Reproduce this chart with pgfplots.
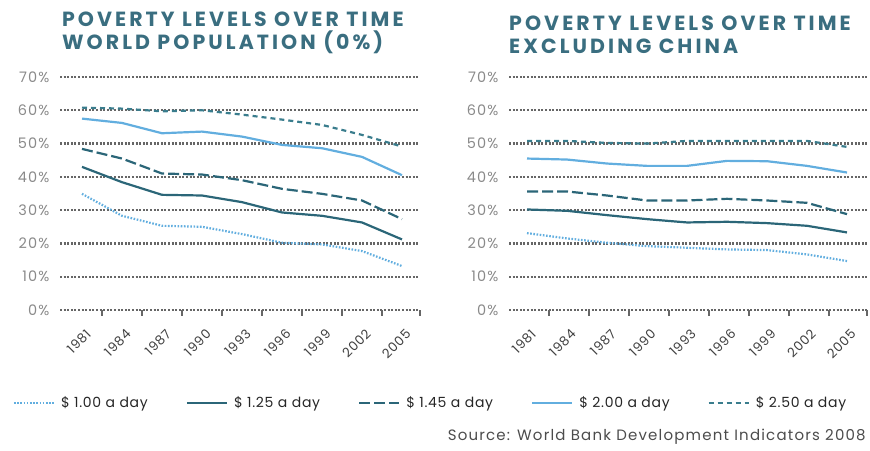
\documentclass[border=0pt]{standalone}
\usepackage{pgfplots}
\pgfplotsset{compat=1.18}
\usepackage{fontspec}
\setmainfont{Poppins}
\definecolor{titleteal}{HTML}{3A6E80}
\definecolor{lblue}{HTML}{62AEDF}
\definecolor{dteal}{HTML}{2B6678}
\definecolor{mteal}{HTML}{3A7D8D}
\definecolor{gridgray}{HTML}{666666}
\definecolor{lblgray}{HTML}{8A8A8A}

\pgfplotstableread{
i y100 y125 y145 y200 y250
0 34.9 43.0 48.4 57.5 60.8
1 28.3 38.4 45.5 56.2 60.5
2 25.3 34.6 41.0 53.1 59.7
3 25.0 34.4 40.7 53.6 60.0
4 22.8 32.4 39.0 52.1 58.7
5 20.2 29.3 36.4 49.6 57.2
6 19.7 28.3 34.9 48.6 55.6
7 17.7 26.3 32.9 46.0 52.6
8 13.2 21.2 27.3 40.5 49.1
}\world

\pgfplotstableread{
i y100 y125 y145 y200 y250
0 23.1 30.2 35.6 45.5 50.8
1 21.5 29.8 35.6 45.2 50.8
2 20.2 28.5 34.4 44.0 50.2
3 19.2 27.3 32.9 43.3 50.0
4 18.7 26.3 32.9 43.3 50.8
5 18.2 26.5 33.4 44.8 50.8
6 18.0 26.1 32.9 44.7 50.8
7 16.7 25.3 32.2 43.3 50.8
8 14.7 23.3 28.8 41.3 49.0
}\exchina

\pgfplotsset{
  povstyle/.style={
    scale only axis,
    clip=false,
    height=233pt,
    ymin=0, ymax=70,
    ytick={0,10,...,70},
    yticklabel={\pgfmathprintnumber{\tick}\%},
    /pgf/number format/assume math mode=true,
    y tick label style={font=\fontsize{14.5}{16}\selectfont\addfontfeature{LetterSpace=8}, text=lblgray, xshift=-1pt},
    ytick style={draw=none},
    ymajorgrids,
    major grid style={gridgray, line width=2.2pt, dash pattern=on 2pt off 1.6pt},
    axis line style={draw=none},
    xticklabels={},
    xtick pos=bottom,
    tick align=outside,
    xtick style={draw=gridgray, line width=1.2pt},
    major tick length=6pt,
    extra x ticks={0,...,8},
    extra x tick labels={1981,1984,1987,1990,1993,1996,1999,2002,2005},
    extra x tick style={grid=none, major tick length=0pt,
      tick label style={xshift=3pt, yshift=-18pt, rotate=45, anchor=north east, font=\fontsize{13}{14}\selectfont\addfontfeature{LetterSpace=6}, text=black!75, inner sep=0pt}},
    title style={anchor=south west, align=left, font=\fontsize{20.5}{23}\selectfont\bfseries\addfontfeature{LetterSpace=15}, text=titleteal, inner sep=0pt},
  },
  s100/.style={lblue, line width=2.2pt, dash pattern=on 1.6pt off 1.6pt},
  s125/.style={dteal, line width=2.2pt},
  s145/.style={dteal, line width=2.2pt, dash pattern=on 11pt off 4pt},
  s200/.style={lblue, line width=2.2pt},
  s250/.style={mteal, line width=2.2pt, dash pattern=on 5pt off 4pt},
}

\begin{document}
\begin{tikzpicture}
\useasboundingbox (0,0) rectangle (870pt,450pt);
\begin{axis}[povstyle,
  at={(60pt,140pt)}, anchor=south west,
  width=360pt,
  xmin=-0.55, xmax=8.45,
  xtick={0.5,1.5,2.5,3.5,4.5,5.5,6.5,7.5,8.45},
  title={POVERTY LEVELS OVER TIME\\WORLD POPULATION (0\%)},
  title style={at={(0.005,1.075)}},
  legend columns=5,
  legend style={draw=none, fill=none, at={(-0.14,-0.40)}, anchor=west,
    font=\fontsize{14}{16}\selectfont\addfontfeature{LetterSpace=5}, text=black!85,
    /tikz/every even column/.append style={column sep=36pt},
    /tikz/every odd column/.append style={column sep=4pt}},
  legend image code/.code={\draw[#1] (0pt,0pt) -- (40pt,0pt);},
  legend cell align=left,
]
\addplot[s100] table[x=i,y=y100]{\world};
\addlegendentry{\$ 1.00 a day}
\addplot[s125] table[x=i,y=y125]{\world};
\addlegendentry{\$ 1.25 a day}
\addplot[s145] table[x=i,y=y145]{\world};
\addlegendentry{\$ 1.45 a day}
\addplot[s200] table[x=i,y=y200]{\world};
\addlegendentry{\$ 2.00 a day}
\addplot[s250] table[x=i,y=y250]{\world};
\addlegendentry{\$ 2.50 a day}
\end{axis}

\begin{axis}[povstyle,
  at={(509pt,140pt)}, anchor=south west,
  width=358pt,
  xmin=-0.45, xmax=8.5,
  xtick={0.55,1.55,2.55,3.55,4.55,5.55,6.55,7.55,8.5},
  title={POVERTY LEVELS OVER TIME\\EXCLUDING CHINA},
  title style={at={(0.0,1.075)}},
]
\addplot[s100] table[x=i,y=y100]{\exchina};
\addplot[s125] table[x=i,y=y125]{\exchina};
\addplot[s145] table[x=i,y=y145]{\exchina};
\addplot[s200] table[x=i,y=y200]{\exchina};
\addplot[s250] table[x=i,y=y250]{\exchina};
\node[anchor=east, font=\fontsize{15}{17}\selectfont\addfontfeature{LetterSpace=8}, text=black!70, inner sep=0pt]
  at (axis description cs:0.997,-0.545) {Source: World Bank Development Indicators 2008};
\end{axis}
\end{tikzpicture}
\end{document}
